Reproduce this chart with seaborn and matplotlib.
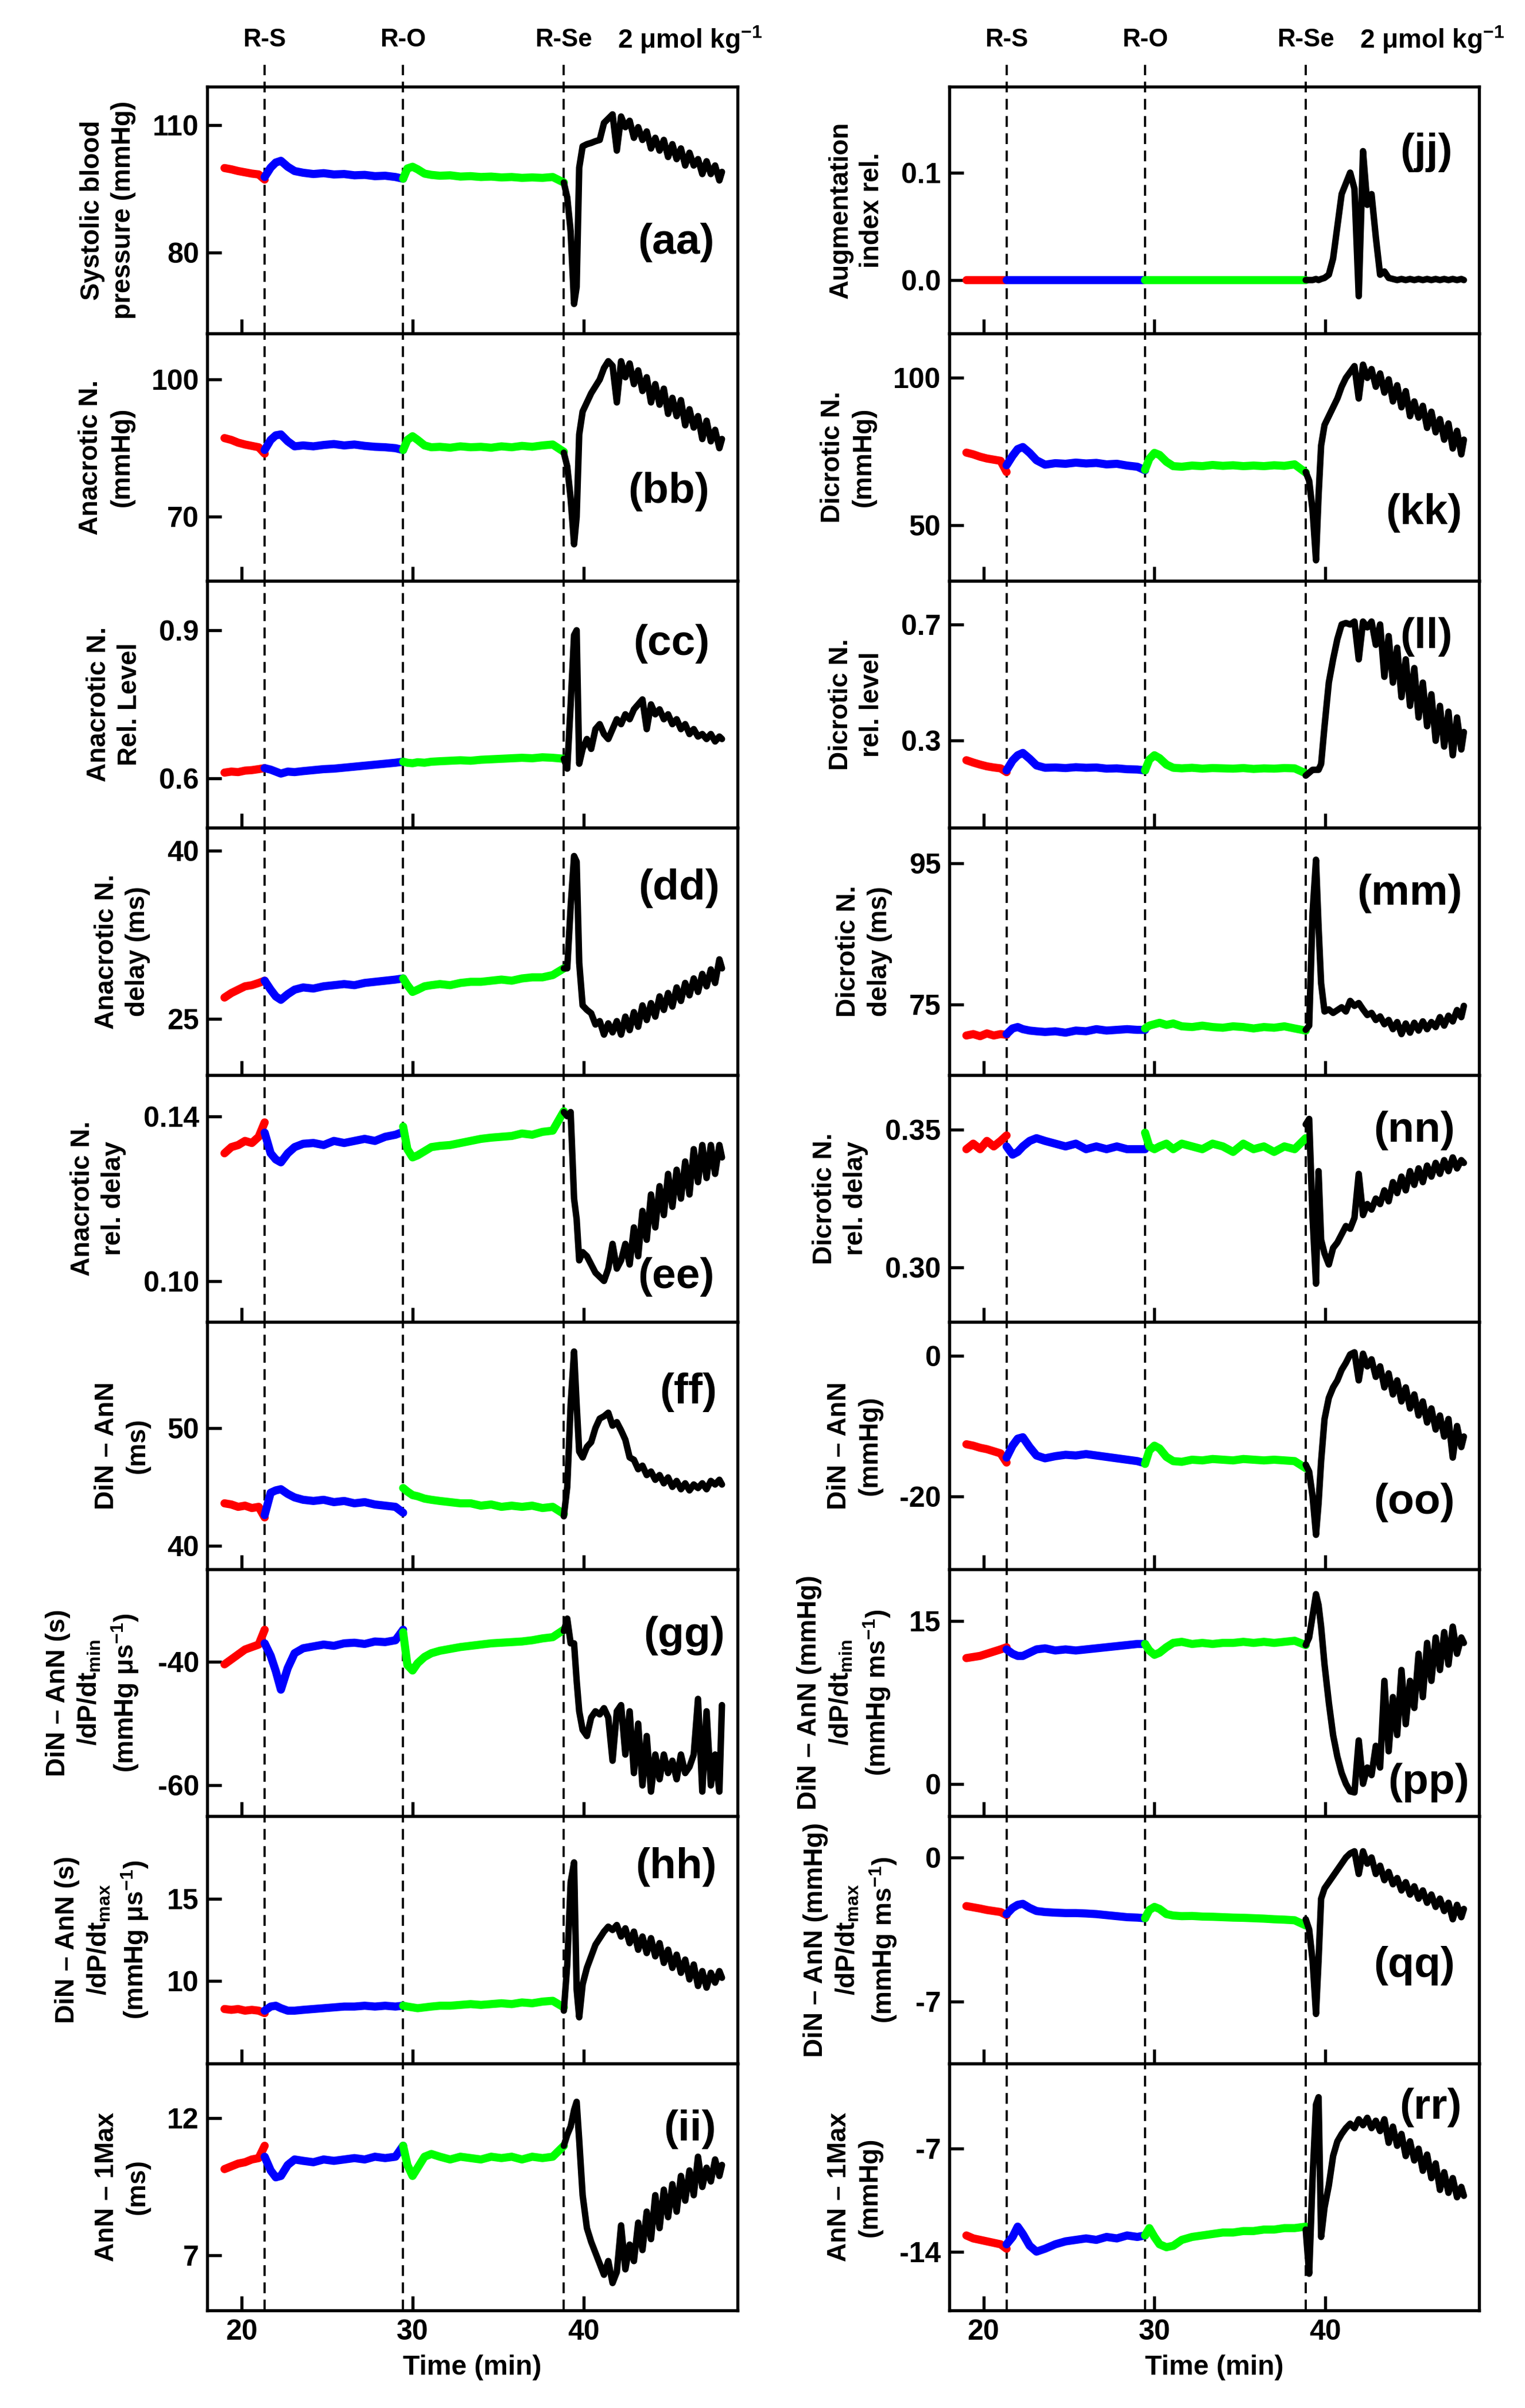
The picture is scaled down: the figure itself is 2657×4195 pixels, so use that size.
import matplotlib
matplotlib.use("Agg")
import matplotlib.pyplot as plt
import seaborn as sns

sns.set_theme(style="ticks", rc={
    "axes.edgecolor": "black", "text.color": "black", "axes.labelcolor": "black",
    "xtick.color": "black", "ytick.color": "black",
    "xtick.direction": "in", "ytick.direction": "in",
})
plt.rcParams["font.family"] = ["Liberation Sans", "DejaVu Sans"]
plt.rcParams.update({
    "font.weight": "bold",
    "axes.labelweight": "bold",
    "axes.unicode_minus": False,
    "mathtext.fontset": "custom",
    "mathtext.rm": "Liberation Sans:bold",
    "mathtext.it": "Liberation Sans:bold",
    "mathtext.bf": "Liberation Sans:bold",
    "mathtext.sf": "Liberation Sans:bold",
})

# time axes of the four phases (min)
t_red = [19.0, 19.4, 19.8, 20.2, 20.6, 21.0, 21.35]
t_blue = [21.35, 21.7, 22.0, 22.3, 22.7, 23.1, 23.6, 24.2, 24.8, 25.4, 26.0, 26.6, 27.2, 27.8, 28.4, 29.0, 29.45]
t_green = [29.45, 29.7, 30.0, 30.3, 30.7, 31.1, 31.6, 32.2, 32.8, 33.4, 34.0, 34.6, 35.2, 35.8, 36.4, 37.0, 37.6, 38.2, 38.85]
t_black = [38.85, 39.05, 39.25, 39.45, 39.6, 39.75, 39.95, 40.2, 40.45, 40.7, 40.95, 41.2, 41.45, 41.7, 41.95,
           42.2, 42.45, 42.7, 42.95, 43.2, 43.45, 43.7, 43.95, 44.2, 44.45, 44.7, 44.95, 45.2, 45.45, 45.7,
           45.95, 46.2, 46.45, 46.7, 46.95, 47.2, 47.45, 47.7, 47.95, 48.1]

events = [21.35, 29.45, 38.85]
event_labels = ["R-S", "R-O", "R-Se"]

# ---- left column ----
aa_red = [99.9, 99.6, 99.2, 98.9, 98.6, 98.4, 97.2]
aa_blue = [97.8, 100.0, 101.2, 101.6, 100.2, 99.2, 98.8, 98.5, 98.7, 98.4, 98.5, 98.2, 98.3, 98.0, 98.1, 97.8, 97.4]
aa_green = [97.4, 99.8, 100.2, 99.6, 98.6, 98.3, 98.1, 98.2, 97.9, 98.0, 97.8, 97.9, 97.7, 97.8, 97.6, 97.7, 97.6, 97.8, 96.5]
aa_black = [96.5, 93, 85, 68, 72, 100, 105, 105.5, 105.8, 106.2, 106.5, 110.5, 111.5, 112.5, 104, 112, 109.5, 111, 107, 109.5,
            106.5, 108.5, 104.5, 107, 104, 106.5, 102.5, 105.5, 102, 104.5, 100.5, 103.5, 100.5, 102, 98.5, 101.5, 98.5, 100.5, 97, 99]

bb_red = [87.2, 86.8, 86.2, 85.8, 85.5, 85.2, 83.8]
bb_blue = [84.6, 86.8, 87.8, 88.0, 86.5, 85.4, 85.6, 85.4, 85.7, 85.9, 85.6, 85.8, 85.5, 85.3, 85.2, 85.0, 84.6]
bb_green = [84.6, 86.8, 87.6, 86.8, 85.6, 85.2, 85.3, 85.1, 85.4, 85.2, 85.3, 85.1, 85.4, 85.2, 85.5, 85.3, 85.6, 85.8, 84.2]
bb_black = [84, 81, 74, 64, 70, 88, 93, 95, 97, 98.5, 100, 102.5, 104, 103, 95, 104, 100.5, 103.5, 99, 102,
            97.5, 100.5, 95, 99, 94.5, 98, 92.5, 96, 92, 95.5, 90, 93.5, 89.5, 92, 87, 91, 86.5, 89, 85, 87]

cc_red = [0.612, 0.614, 0.613, 0.616, 0.617, 0.619, 0.621]
cc_blue = [0.621, 0.618, 0.614, 0.610, 0.614, 0.613, 0.615, 0.617, 0.619, 0.620, 0.622, 0.624, 0.626, 0.628, 0.630, 0.632, 0.634]
cc_green = [0.634, 0.632, 0.631, 0.633, 0.632, 0.634, 0.635, 0.636, 0.637, 0.636, 0.638, 0.639, 0.640, 0.641, 0.642, 0.641, 0.643, 0.642, 0.640]
cc_black = [0.64, 0.62, 0.75, 0.89, 0.90, 0.63, 0.66, 0.68, 0.66, 0.70, 0.71, 0.69, 0.68, 0.70, 0.72, 0.71, 0.73, 0.72, 0.74, 0.75,
            0.76, 0.70, 0.75, 0.73, 0.74, 0.72, 0.73, 0.71, 0.72, 0.70, 0.71, 0.69, 0.70, 0.685, 0.69, 0.68, 0.69, 0.675, 0.685, 0.68]

dd_red = [26.9, 27.3, 27.6, 27.9, 28.0, 28.2, 28.4]
dd_blue = [28.4, 27.6, 27.0, 26.7, 27.2, 27.6, 27.8, 27.7, 27.9, 28.0, 28.1, 28.0, 28.2, 28.3, 28.4, 28.5, 28.6]
dd_green = [28.6, 28.0, 27.4, 27.6, 27.9, 28.0, 28.1, 28.0, 28.2, 28.3, 28.3, 28.4, 28.5, 28.4, 28.6, 28.7, 28.7, 28.9, 29.5]
dd_black = [29.5, 29.5, 35, 39.5, 39, 30, 26.2, 25.8, 25.5, 24.5, 24.8, 23.6, 24.6, 23.8, 24.8, 23.6, 25.2, 24, 25.6, 24.3,
            26.2, 24.9, 26.4, 25.2, 27, 25.8, 27.3, 26.1, 27.8, 26.6, 28.2, 27.1, 28.6, 27.4, 29, 27.9, 29.4, 28.2, 30.3, 29.5]

ee_red = [0.131, 0.1325, 0.133, 0.134, 0.1335, 0.135, 0.1385]
ee_blue = [0.136, 0.131, 0.1295, 0.1288, 0.131, 0.1325, 0.1333, 0.1335, 0.133, 0.134, 0.1335, 0.134, 0.1345, 0.134, 0.135, 0.1355, 0.1362]
ee_green = [0.1375, 0.132, 0.130, 0.1305, 0.1315, 0.1325, 0.1328, 0.133, 0.1335, 0.134, 0.1345, 0.1348, 0.135, 0.1352, 0.1358, 0.1355, 0.1362, 0.1365, 0.1412]
ee_black = [0.141, 0.140, 0.141, 0.120, 0.115, 0.105, 0.107, 0.106, 0.104, 0.102, 0.101, 0.100, 0.103, 0.109, 0.103, 0.105, 0.109, 0.104, 0.113, 0.106,
            0.117, 0.110, 0.121, 0.113, 0.123, 0.116, 0.126, 0.118, 0.127, 0.120, 0.129, 0.121, 0.132, 0.124, 0.133, 0.125, 0.133, 0.126, 0.133, 0.130]

ff_red = [43.6, 43.5, 43.3, 43.4, 43.2, 43.3, 42.4]
ff_blue = [42.6, 44.5, 44.7, 44.8, 44.4, 44.1, 43.9, 43.8, 43.9, 43.7, 43.8, 43.6, 43.7, 43.5, 43.4, 43.3, 42.8]
ff_green = [44.9, 44.6, 44.3, 44.2, 44.0, 43.9, 43.8, 43.7, 43.6, 43.6, 43.4, 43.5, 43.3, 43.4, 43.3, 43.4, 43.2, 43.3, 42.7]
ff_black = [42.5, 45, 52, 56.5, 52, 48, 47.5, 48.4, 48.8, 50, 50.8, 51, 51.3, 50.2, 50.5, 49.8, 49, 47.5, 47.3, 46.5,
            46.8, 46, 46.3, 45.6, 46, 45.3, 45.8, 45, 45.5, 44.8, 45.3, 44.7, 45.2, 44.9, 45.3, 44.8, 45.5, 45.2, 45.6, 45.2]

gg_red = [-40.4, -39.6, -38.8, -38.0, -37.6, -37.2, -34.8]
gg_blue = [-37.0, -39.0, -41.5, -44.5, -41.0, -38.6, -37.8, -37.5, -37.2, -37.4, -37.0, -36.9, -37.1, -36.7, -36.8, -36.5, -34.8]
gg_green = [-35.2, -40.5, -41.4, -40.2, -39.2, -38.6, -38.2, -37.9, -37.6, -37.4, -37.2, -37.0, -36.9, -36.8, -36.7, -36.5, -36.2, -36.0, -34.8]
gg_black = [-35, -33, -37, -37, -43, -48, -51, -52, -49, -48, -48.5, -47.5, -49, -56, -48, -47, -55, -48, -58, -50,
            -60, -52, -61, -55, -59, -55, -58, -56, -59, -55, -58, -57, -55, -46, -61, -48, -60, -55, -61, -47]

hh_red = [8.3, 8.25, 8.3, 8.2, 8.25, 8.2, 8.05]
hh_blue = [8.2, 8.45, 8.5, 8.35, 8.2, 8.2, 8.25, 8.3, 8.35, 8.4, 8.45, 8.45, 8.5, 8.45, 8.5, 8.45, 8.5]
hh_green = [8.5, 8.45, 8.4, 8.35, 8.4, 8.45, 8.5, 8.5, 8.55, 8.6, 8.55, 8.6, 8.65, 8.6, 8.7, 8.65, 8.75, 8.8, 8.4]
hh_black = [8.2, 11, 16, 17.2, 9.5, 7.8, 9.8, 10.8, 11.5, 12.2, 12.6, 13, 13.3, 13.1, 13.4, 12.7, 13.2, 12.3, 13, 11.9,
            12.7, 11.7, 12.6, 11.5, 12.3, 11.1, 11.9, 10.8, 11.6, 10.5, 11.3, 10.1, 11, 9.7, 10.6, 9.6, 10.5, 9.9, 10.6, 10.2]

ii_red = [10.15, 10.25, 10.35, 10.4, 10.5, 10.55, 11.0]
ii_blue = [10.6, 10.1, 9.85, 9.9, 10.3, 10.5, 10.45, 10.4, 10.5, 10.45, 10.5, 10.55, 10.5, 10.6, 10.55, 10.6, 11.0]
ii_green = [11.0, 10.3, 9.9, 10.2, 10.6, 10.7, 10.6, 10.5, 10.6, 10.55, 10.5, 10.6, 10.55, 10.6, 10.5, 10.6, 10.55, 10.6, 11.0]
ii_black = [11, 11.4, 11.7, 12.3, 12.6, 11.2, 9.2, 8.0, 7.5, 7.1, 6.7, 6.3, 6.8, 6.0, 6.4, 8.1, 6.5, 7.4, 6.8, 8.2,
            7.2, 8.6, 7.6, 9.2, 8.0, 9.4, 8.4, 9.6, 8.6, 9.9, 9.0, 10.1, 9.2, 10.6, 9.5, 10.2, 9.7, 10.5, 9.9, 10.3]

# ---- right column ----
jj_red = [0, 0, 0, 0, 0, 0, 0]
jj_blue = [0, 0, 0, 0, 0, 0, 0, 0, 0, 0, 0, 0, 0, 0, 0, 0, 0]
jj_green = [0, 0, 0, 0, 0, 0, 0, 0, 0, 0, 0, 0, 0, 0, 0, 0, 0, 0, 0]
jj_black = [0, 0, 0, 0.001, 0, 0.001, 0.002, 0.005, 0.02, 0.05, 0.08, 0.09, 0.1, 0.085, -0.015, 0.12, 0.07, 0.08, 0.04, 0.005,
            0.008, 0.002, 0.001, 0, 0.001, 0, 0.001, 0, 0.001, 0, 0.001, 0, 0.001, 0, 0.001, 0, 0.001, 0, 0.001, 0]

kk_red = [74.6, 74.0, 73.2, 72.6, 72.2, 71.8, 68.0]
kk_blue = [70.3, 73.5, 75.8, 76.5, 74.5, 72.0, 70.5, 71.0, 70.8, 71.2, 70.9, 71.1, 70.6, 70.8, 70.2, 69.8, 68.6]
kk_green = [68.8, 72.5, 74.5, 73.8, 71.5, 70.0, 69.8, 70.2, 70.0, 70.4, 70.1, 70.3, 70.0, 70.2, 70.0, 70.3, 70.1, 70.6, 67.8]
kk_black = [68, 65, 55, 38, 60, 77, 84, 87, 90, 93, 97, 100, 102, 104, 93, 104.5, 100, 103, 97, 101.5,
            95, 99.5, 92, 97.5, 90, 95.5, 87, 92, 86.5, 90.5, 83, 88.5, 81.5, 86, 79, 84.5, 76, 82, 74, 79]

ll_red = [0.233, 0.225, 0.218, 0.212, 0.208, 0.205, 0.192]
ll_blue = [0.198, 0.232, 0.25, 0.258, 0.238, 0.215, 0.207, 0.208, 0.206, 0.209, 0.207, 0.208, 0.204, 0.205, 0.202, 0.201, 0.198]
ll_green = [0.198, 0.235, 0.25, 0.24, 0.218, 0.207, 0.205, 0.207, 0.204, 0.206, 0.205, 0.204, 0.206, 0.203, 0.205, 0.204, 0.206, 0.205, 0.188]
ll_black = [0.18, 0.19, 0.2, 0.2, 0.2, 0.22, 0.35, 0.5, 0.58, 0.65, 0.7, 0.705, 0.7, 0.71, 0.58, 0.71, 0.69, 0.71, 0.63, 0.7,
            0.52, 0.66, 0.5, 0.62, 0.45, 0.58, 0.42, 0.55, 0.38, 0.5, 0.35, 0.46, 0.3, 0.42, 0.28, 0.4, 0.25, 0.38, 0.27, 0.33]

mm_red = [70.6, 70.8, 70.5, 70.9, 70.6, 70.8, 70.7]
mm_blue = [70.8, 71.6, 71.8, 71.5, 71.3, 71.2, 71.1, 71.2, 71.0, 71.3, 71.2, 71.5, 71.3, 71.4, 71.5, 71.4, 71.4]
mm_green = [71.6, 72.0, 72.2, 72.4, 72.1, 72.3, 71.9, 71.8, 72.0, 71.8, 71.7, 71.9, 71.8, 71.6, 71.8, 71.7, 71.9, 71.6, 71.3]
mm_black = [71.4, 72, 88, 95.5, 86, 78, 74, 74.3, 73.8, 74.2, 74.6, 74.0, 75.5, 74.8, 75.2, 74.3, 73.5, 73.8, 72.8, 73.3,
            72.2, 72.8, 71.5, 72.5, 70.8, 72.3, 71.0, 72.4, 71.3, 72.6, 71.5, 72.5, 71.8, 73.2, 72.0, 73.4, 72.6, 74.2, 73.2, 74.8]

nn_red = [0.343, 0.345, 0.343, 0.346, 0.344, 0.346, 0.348]
nn_blue = [0.344, 0.341, 0.342, 0.344, 0.346, 0.347, 0.346, 0.345, 0.344, 0.345, 0.343, 0.344, 0.343, 0.344, 0.343, 0.343, 0.343]
nn_green = [0.349, 0.344, 0.343, 0.344, 0.345, 0.343, 0.345, 0.344, 0.343, 0.345, 0.344, 0.342, 0.345, 0.343, 0.344, 0.342, 0.344, 0.343, 0.347]
nn_black = [0.352, 0.354, 0.318, 0.294, 0.335, 0.31, 0.305, 0.301, 0.307, 0.309, 0.312, 0.315, 0.314, 0.318, 0.334, 0.319, 0.323, 0.321, 0.325, 0.323,
            0.328, 0.324, 0.331, 0.327, 0.333, 0.328, 0.335, 0.33, 0.336, 0.331, 0.337, 0.333, 0.338, 0.334, 0.339, 0.335, 0.34, 0.336, 0.339, 0.338]

oo_red = [-12.6, -12.8, -13.1, -13.3, -13.6, -13.9, -15.2]
oo_blue = [-14.5, -12.8, -11.8, -11.6, -13.0, -14.2, -14.6, -14.3, -14.1, -14.2, -14.0, -14.2, -14.4, -14.6, -14.8, -15.0, -15.3]
oo_green = [-15.4, -13.5, -12.8, -13.2, -14.4, -15.0, -15.1, -14.8, -14.9, -14.7, -14.8, -14.9, -14.7, -14.8, -14.9, -14.8, -14.9, -15.0, -16.0]
oo_black = [-15.5, -16.5, -20, -25.5, -21, -15, -9, -6, -4.5, -3.5, -2, -1, 0.2, 0.5, -3.5, 0.3, -1.5, -0.5, -3, -1.5,
            -4.5, -2.5, -5.5, -3.5, -6.5, -4.5, -7.5, -5.5, -8.5, -6.5, -9.5, -7.5, -10.5, -8.5, -11.5, -9, -14.5, -10, -13, -11.5]

pp_red = [11.6, 11.7, 11.8, 12.0, 12.2, 12.4, 12.6]
pp_blue = [12.4, 12.0, 11.8, 11.8, 12.1, 12.4, 12.5, 12.3, 12.4, 12.3, 12.4, 12.5, 12.6, 12.7, 12.8, 12.9, 12.9]
pp_green = [12.9, 12.3, 11.9, 12.1, 12.6, 13.0, 13.1, 12.9, 13.0, 12.9, 13.0, 13.0, 13.1, 13.0, 13.1, 13.0, 13.1, 13.2, 12.8]
pp_black = [12.8, 13.5, 15.5, 17.5, 16.5, 14.5, 11, 7.5, 4.5, 2.5, 1, 0, -0.7, -0.8, 4, 0, 1.5, 0.8, 3.5, 1.5,
            9.5, 3, 8, 4.5, 10.5, 5.5, 9.5, 7, 12, 8, 13, 9.5, 13.5, 10.5, 14, 11, 14.5, 12, 13.5, 13]

qq_red = [-2.36, -2.42, -2.48, -2.55, -2.6, -2.65, -2.8]
qq_blue = [-2.75, -2.45, -2.3, -2.25, -2.45, -2.6, -2.65, -2.68, -2.7, -2.7, -2.72, -2.75, -2.8, -2.85, -2.9, -2.92, -2.95]
qq_green = [-2.95, -2.55, -2.4, -2.5, -2.75, -2.82, -2.85, -2.84, -2.87, -2.88, -2.9, -2.92, -2.93, -2.95, -2.97, -3.0, -3.02, -3.05, -3.3]
qq_black = [-3, -3.5, -5, -7.6, -5, -2, -1.5, -1.2, -0.9, -0.6, -0.3, 0, 0.2, 0.3, -0.8, 0.3, -0.3, 0, -0.8, -0.4,
            -1.1, -0.7, -1.3, -1, -1.6, -1.2, -1.8, -1.4, -2, -1.6, -2.2, -1.8, -2.4, -2, -2.6, -2.2, -3, -2.3, -2.9, -2.5]

rr_red = [-12.9, -13.1, -13.2, -13.3, -13.4, -13.5, -13.8]
rr_blue = [-13.5, -13.0, -12.3, -12.8, -13.6, -14.0, -13.8, -13.5, -13.3, -13.2, -13.1, -13.2, -13.0, -13.1, -12.9, -13.0, -12.9]
rr_green = [-12.9, -12.4, -13.0, -13.5, -13.7, -13.6, -13.2, -13.0, -12.9, -12.8, -12.7, -12.7, -12.6, -12.6, -12.5, -12.5, -12.4, -12.4, -12.3]
rr_black = [-12.5, -15.5, -9, -4, -3.5, -13, -11, -9.5, -7.5, -6.5, -6, -5.6, -5.3, -5.6, -5, -5.4, -4.9, -5.6, -5.1, -5.8,
            -5, -6.6, -5.5, -6.8, -6, -7.5, -6.5, -7.8, -7, -8.5, -7.4, -9, -8, -9.8, -8.6, -10, -9, -10.3, -9.6, -10.2]

# panel specs: tag, y label, series, y limits, y ticks, tick labels, tag position (axes fraction)
left_panels = [
    ("(aa)", "Systolic blood\npressure (mmHg)", (aa_red, aa_blue, aa_green, aa_black), (61, 119), [80, 110], ["80", "110"], (0.885, 0.37)),
    ("(bb)", "Anacrotic N.\n(mmHg)", (bb_red, bb_blue, bb_green, bb_black), (56, 110), [70, 100], ["70", "100"], (0.871, 0.36)),
    ("(cc)", "Anacrotic N.\nRel. Level", (cc_red, cc_blue, cc_green, cc_black), (0.5, 1.0), [0.6, 0.9], ["0.6", "0.9"], (0.876, 0.745)),
    ("(dd)", "Anacrotic N.\ndelay (ms)", (dd_red, dd_blue, dd_green, dd_black), (20, 42), [25, 40], ["25", "40"], (0.89, 0.756)),
    ("(ee)", "Anacrotic N.\nrel. delay", (ee_red, ee_blue, ee_green, ee_black), (0.09, 0.15), [0.10, 0.14], ["0.10", "0.14"], (0.885, 0.183)),
    ("(ff)", "DiN \u2013 AnN\n(ms)", (ff_red, ff_blue, ff_green, ff_black), (38, 59), [40, 50], ["40", "50"], (0.908, 0.717)),
    ("(gg)", "DiN \u2013 AnN (s)\n/dP/dt$_{min}$\n(mmHg \u03bcs$^{-1}$)", (gg_red, gg_blue, gg_green, gg_black), (-65, -25), [-60, -40], ["-60", "-40"], (0.9, 0.73)),
    ("(hh)", "DiN \u2013 AnN (s)\n/dP/dt$_{max}$\n(mmHg \u03bcs$^{-1}$)", (hh_red, hh_blue, hh_green, hh_black), (5, 20), [10, 15], ["10", "15"], (0.885, 0.795)),
    ("(ii)", "AnN \u2013 1Max\n(ms)", (ii_red, ii_blue, ii_green, ii_black), (5, 14), [7, 12], ["7", "12"], (0.911, 0.733)),
]
right_panels = [
    ("(jj)", "Augmentation\nindex rel.", (jj_red, jj_blue, jj_green, jj_black), (-0.05, 0.18), [0.0, 0.1], ["0.0", "0.1"], (0.9, 0.733)),
    ("(kk)", "Dicrotic N.\n(mmHg)", (kk_red, kk_blue, kk_green, kk_black), (31, 115), [50, 100], ["50", "100"], (0.896, 0.275)),
    ("(ll)", "Dicrotic N.\nrel. level", (ll_red, ll_blue, ll_green, ll_black), (0.0, 0.85), [0.3, 0.7], ["0.3", "0.7"], (0.9, 0.773)),
    ("(mm)", "Dicrotic N.\ndelay (ms)", (mm_red, mm_blue, mm_green, mm_black), (65, 100), [75, 95], ["75", "95"], (0.869, 0.736)),
    ("(nn)", "Dicrotic N.\nrel. delay", (nn_red, nn_blue, nn_green, nn_black), (0.28, 0.37), [0.30, 0.35], ["0.30", "0.35"], (0.877, 0.775)),
    ("(oo)", "DiN \u2013 AnN\n(mmHg)", (oo_red, oo_blue, oo_green, oo_black), (-30.4, 4.8), [-20, 0], ["-20", "0"], (0.877, 0.271)),
    ("(pp)", "DiN \u2013 AnN (mmHg)\n/dP/dt$_{min}$\n(mmHg ms$^{-1}$)", (pp_red, pp_blue, pp_green, pp_black), (-3, 19.8), [0, 15], ["0", "15"], (0.905, 0.136)),
    ("(qq)", "DiN \u2013 AnN (mmHg)\n/dP/dt$_{max}$\n(mmHg ms$^{-1}$)", (qq_red, qq_blue, qq_green, qq_black), (-10, 2), [-7, 0], ["-7", "0"], (0.877, 0.396)),
    ("(rr)", "AnN \u2013 1Max\n(mmHg)", (rr_red, rr_blue, rr_green, rr_black), (-18, -1.2), [-14, -7], ["-14", "-7"], (0.908, 0.821)),
]

seg_times = [t_red, t_blue, t_green, t_black]
seg_colors = ["#ff0000", "#0000ff", "#00ff00", "black"]
seg_widths = [3.4, 3.4, 3.4, 2.7]

fig, axes = plt.subplots(9, 2, figsize=(2657 / 300, 4195 / 300), dpi=300, sharex=True)
fig.subplots_adjust(left=0.136, right=0.970, top=0.964, bottom=0.0405, hspace=0, wspace=0.40)

for col, panels in enumerate([left_panels, right_panels]):
    for row, (tag, ylab, series, ylim, yticks, yticklabels, tpos) in enumerate(panels):
        ax = axes[row, col]
        for ev in events:
            ax.axvline(ev, color="black", lw=0.9, ls=(0, (5, 3)), zorder=1,
                       ymax=1.088 if row == 0 else 1.0, clip_on=(row != 0))
        for t, y, c, lw in zip(seg_times, series, seg_colors, seg_widths):
            sns.lineplot(x=t, y=y, ax=ax, color=c, lw=lw, estimator=None, sort=False, legend=False, zorder=3)
        ax.set_xlim(18, 49)
        ax.set_ylim(*ylim)
        ax.set_xticks([20, 30, 40])
        ax.set_yticks(yticks)
        ax.set_yticklabels(yticklabels)
        ax.tick_params(axis="both", direction="in", length=6, width=1.3, labelsize=12, top=False, right=False)
        for s in ax.spines.values():
            s.set_linewidth(1.3)
        ax.set_ylabel(ylab, fontsize=11, fontweight="bold", linespacing=1.3, labelpad=7)
        ax.set_xlabel("")
        ax.text(tpos[0], tpos[1], tag, transform=ax.transAxes, fontsize=18, fontweight="bold",
                ha="center", va="center")
    axes[8, col].set_xlabel("Time (min)", fontsize=11.5, fontweight="bold")
    for lbl in axes[8, col].get_xticklabels():
        lbl.set_fontweight("bold")
    top = axes[0, col]
    for ev, lab in zip(events, event_labels):
        top.text(ev, 1.19, lab, transform=top.get_xaxis_transform(), ha="center", va="center",
                 fontsize=10.5, fontweight="bold")
    top.text(42.0, 1.19, "2 \u03bcmol kg$^{-1}$", transform=top.get_xaxis_transform(), ha="left", va="center",
             fontsize=11, fontweight="bold")

fig.savefig("out.png", dpi=300)
